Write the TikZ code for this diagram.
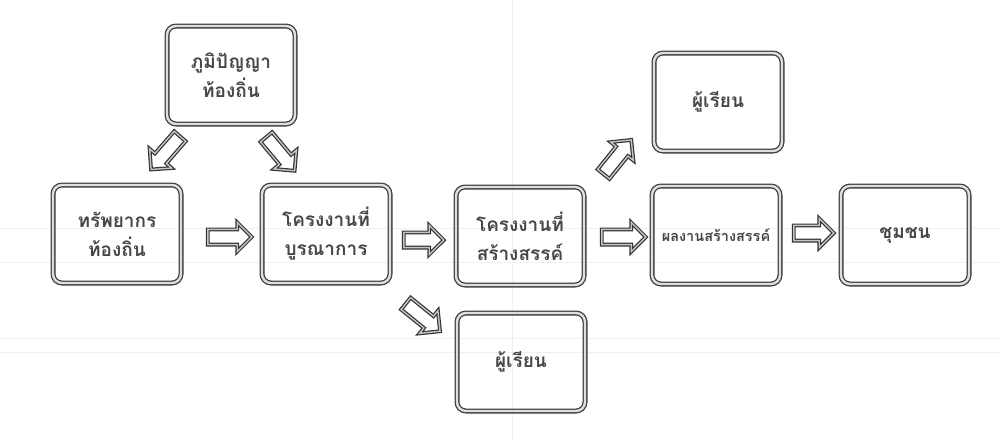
\documentclass[tikz,border=0pt]{standalone}
\usepackage{fontspec}
\newfontfamily\thaifont[Script=Thai]{Loma}
\usetikzlibrary{shapes.arrows}
\begin{document}
\begin{tikzpicture}[x=1pt,y=-1pt,
  card/.style={draw=black!75, double=gray!25, double distance=2.4pt, line width=1.3pt,
    rounded corners=9pt, minimum width=128pt, minimum height=98pt, align=center,
    font=\thaifont\fontsize{19}{29}\selectfont\bfseries, text=black!72},
  blockarrow/.style={single arrow, draw=black!80, fill=white, double=gray!45,
    double distance=1.4pt, line width=1.2pt, minimum height=44pt,
    single arrow head extend=7pt, inner sep=7pt},
  gridline/.style={draw=black!6, line width=0.4pt}]
\useasboundingbox (0,0) rectangle (1001,440);
\fill[white] (0,0) rectangle (1001,440);
% faint ruled background
\foreach \yy in {228,262,338,352} \draw[gridline] (0,\yy) -- (1001,\yy);
\draw[gridline] (512,0) -- (512,440);

% boxes
\node[card] (top)   at (231,75)  {ภูมิปัญญา\\ท้องถิ่น};
\node[card] (left)  at (117,234) {ทรัพยากร\\ท้องถิ่น};
\node[card] (mid)   at (326,234) {โครงงานที่\\บูรณาการ};
\node[card] (next)  at (520,236) {โครงงานที่\\สร้างสรรค์};
\node[card] (upper) at (718,102) {ผู้เรียน};
\node[card, font=\thaifont\fontsize{14.5}{20}\selectfont\bfseries] (work) at (716,235) {ผลงานสร้างสรรค์};
\node[card] (end)   at (905,235) {ชุมชน};
\node[card] (lower) at (521,362) {ผู้เรียน};

% block arrows between the boxes
\node[blockarrow] (a1) at (226,237) {};
\node[blockarrow, minimum height=40pt] (a2) at (420,240) {};
\node[blockarrow] (a3) at (620,237) {};
\node[blockarrow, minimum height=40pt] (a4) at (810,233) {};
\node[blockarrow, rotate=229] (a5) at (168,150) {};
\node[blockarrow, rotate=310] (a6) at (278,151) {};
\node[blockarrow, rotate=51] (a7) at (615,160) {};
\node[blockarrow, rotate=321] (a8) at (420,315) {};
\end{tikzpicture}
\end{document}
